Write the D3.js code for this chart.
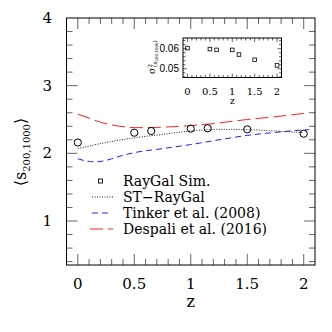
<!DOCTYPE html>
<html><head><meta charset="utf-8">
<script src="https://cdn.jsdelivr.net/npm/d3@7"></script>
<style>body{margin:0;background:#fff}svg{display:block}</style>
</head><body><svg id="c" width="332" height="332"></svg>
<script>
// data
const simZ = [0, 0.5, 0.65, 1.0, 1.15, 1.5, 2.0];
const simS = [2.16, 2.305, 2.33, 2.365, 2.37, 2.355, 2.29];
const simVar = [0.0603, 0.0598, 0.0594, 0.0594, 0.0571, 0.0545, 0.0517];
const stZ = [0, 0.25, 0.5, 0.75, 1.0, 1.25, 1.5, 1.75, 2.0];
const stS = [2.07, 2.16, 2.23, 2.28, 2.33, 2.355, 2.35, 2.33, 2.305];
const tinkerZ = [0, 0.08, 0.15, 0.22, 0.3, 0.4, 0.5, 0.75, 1.0, 1.25, 1.5, 1.75, 2.0, 2.05];
const tinkerS = [1.92, 1.885, 1.875, 1.885, 1.92, 1.97, 2.01, 2.07, 2.13, 2.2, 2.265, 2.31, 2.345, 2.35];
const despZ = [0, 0.1, 0.2, 0.3, 0.4, 0.5, 0.6, 0.8, 1.0, 1.2, 1.5, 1.8, 2.0, 2.05];
const despS = [2.58, 2.52, 2.46, 2.42, 2.395, 2.38, 2.38, 2.39, 2.41, 2.44, 2.5, 2.55, 2.59, 2.6];
const xTicks = [0, 0.5, 1, 1.5, 2];
const yTicks = [1, 2, 3, 4];
const insetYTicks = [0.05, 0.06];
const legendLabels = ["RayGal Sim.", "ST\u2212RayGal", "Tinker et al. (2008)", "Despali et al. (2016)"];

const svg = d3.select("#c");
const serif = "'DejaVu Serif', serif";
const L = 66.5, R = 315, T = 18, B = 265;
const x = d3.scaleLinear().domain([-0.1, 2.1]).range([L, R]);
const y = d3.scaleLinear().domain([0.35, 4]).range([B, T]);
const tickCol = "#666";

function frameTicks(g, xs, ys, left, right, top, bottom, xMaj, xMin, yMaj, yMin, majLen, minLen) {
  const xminor = d3.range(xs.domain()[0], xs.domain()[1] + 1e-9, xMin);
  xminor.forEach(v => {
    const isMaj = Math.abs(v / xMaj - Math.round(v / xMaj)) < 1e-6;
    const l = isMaj ? majLen : minLen;
    const px = xs(v);
    if (px < left + 0.5 || px > right - 0.5) return;
    g.append("line").attr("x1", px).attr("x2", px).attr("y1", bottom).attr("y2", bottom - l).attr("stroke", tickCol);
    g.append("line").attr("x1", px).attr("x2", px).attr("y1", top).attr("y2", top + l).attr("stroke", tickCol);
  });
  const y0 = Math.ceil(ys.domain()[0] / yMin) * yMin;
  d3.range(y0, ys.domain()[1] + 1e-9, yMin).forEach(v => {
    const isMaj = Math.abs(v / yMaj - Math.round(v / yMaj)) < 1e-6;
    const l = isMaj ? majLen : minLen;
    const py = ys(v);
    if (py < top + 0.5 || py > bottom - 0.5) return;
    g.append("line").attr("y1", py).attr("y2", py).attr("x1", left).attr("x2", left + l).attr("stroke", tickCol);
    g.append("line").attr("y1", py).attr("y2", py).attr("x1", right).attr("x2", right - l).attr("stroke", tickCol);
  });
  g.append("rect").attr("x", left).attr("y", top).attr("width", right - left).attr("height", bottom - top)
    .attr("fill", "none").attr("stroke", "#000").attr("stroke-width", 1);
}

const main = svg.append("g");
frameTicks(main, x, y, L, R, T, B, 0.5, 0.1, 1, 0.2, 11, 6);

// tick labels
main.selectAll(".xl").data(xTicks).join("text").attr("x", d => x(d)).attr("y", 289)
  .attr("text-anchor", "middle").attr("font-family", serif).attr("font-size", 15).text(d => d);
main.selectAll(".yl").data(yTicks).join("text").attr("x", 52).attr("y", d => y(d) + 5)
  .attr("text-anchor", "end").attr("font-family", serif).attr("font-size", 15).text(d => d);
main.append("text").attr("x", x(1)).attr("y", 307).attr("text-anchor", "middle")
  .attr("font-family", serif).attr("font-size", 16).text("z");
const yl = main.append("text").attr("transform", "translate(26,152) rotate(-90)")
  .attr("text-anchor", "middle").attr("font-family", serif).attr("font-size", 16);
yl.append("tspan").text("\u27E8s");
yl.append("tspan").attr("font-size", 10).attr("dy", 4).text("200,1000");
yl.append("tspan").attr("dy", -4).text("\u27E9");

const line = d3.line().curve(d3.curveMonotoneX);
const pts = (zs, vs) => zs.map((z, i) => [x(z), y(vs[i])]);
main.append("path").attr("d", line(pts(despZ, despS))).attr("fill", "none").attr("stroke", "#ff2020")
  .attr("stroke-width", 1).attr("stroke-dasharray", "13,5");
main.append("path").attr("d", line(pts(tinkerZ, tinkerS))).attr("fill", "none").attr("stroke", "#2020ff")
  .attr("stroke-width", 1).attr("stroke-dasharray", "6,4");
main.append("path").attr("d", line(pts(stZ, stS))).attr("fill", "none").attr("stroke", "#222")
  .attr("stroke-width", 1).attr("stroke-dasharray", "1,1.5");
main.selectAll(".pt").data(simZ).join("circle").attr("cx", d => x(d)).attr("cy", (d, i) => y(simS[i]))
  .attr("r", 3.6).attr("fill", "none").attr("stroke", "#000").attr("stroke-width", 1);

// legend
const lg = main.append("g");
const rowY = [181, 197, 213, 229];
legendLabels.forEach((t, i) => {
  lg.append("text").attr("x", 123).attr("y", rowY[i] + 5).attr("font-family", serif)
    .attr("font-size", 14).text(t);
});
lg.append("rect").attr("x", 98.5).attr("y", rowY[0] - 2).attr("width", 4).attr("height", 4)
  .attr("fill", "none").attr("stroke", "#000").attr("stroke-width", 0.9);
lg.append("line").attr("x1", 92).attr("x2", 113).attr("y1", rowY[1]).attr("y2", rowY[1])
  .attr("stroke", "#222").attr("stroke-dasharray", "1,1.5");
lg.append("line").attr("x1", 92).attr("x2", 112).attr("y1", rowY[2]).attr("y2", rowY[2])
  .attr("stroke", "#2020ff").attr("stroke-dasharray", "6,4");
lg.append("line").attr("x1", 90).attr("x2", 113).attr("y1", rowY[3]).attr("y2", rowY[3])
  .attr("stroke", "#ff2020").attr("stroke-dasharray", "13,5");

// inset
const iL = 183, iR = 281.5, iT = 38, iB = 77.5;
const ix = d3.scaleLinear().domain([-0.1, 2.1]).range([iL, iR]);
const iy = d3.scaleLinear().domain([0.0457, 0.0653]).range([iB, iT]);
const ins = svg.append("g");
frameTicks(ins, ix, iy, iL, iR, iT, iB, 0.5, 0.1, 0.01, 0.002, 4, 2.5);
ins.selectAll(".ixl").data(xTicks).join("text").attr("x", d => ix(d)).attr("y", 95)
  .attr("text-anchor", "middle").attr("font-family", serif).attr("font-size", 10).text(d => d);
ins.selectAll(".iyl").data(insetYTicks).join("text").attr("x", 179).attr("y", d => iy(d) + 3.5)
  .attr("text-anchor", "end").attr("font-family", "'Liberation Sans', sans-serif").attr("font-size", 10)
  .text(d => d.toFixed(2));
ins.append("text").attr("x", ix(1)).attr("y", 104).attr("text-anchor", "middle")
  .attr("font-family", serif).attr("font-size", 9).text("z");
const iyl = ins.append("text").attr("transform", "translate(155,57) rotate(-90)")
  .attr("text-anchor", "middle").attr("font-family", serif).attr("font-size", 9);
iyl.append("tspan").text("\u03C3");
iyl.append("tspan").attr("font-size", 6).attr("dy", -3).text("2");
iyl.append("tspan").attr("font-size", 6).attr("dy", 5).attr("dx", -3).text("(s");
iyl.append("tspan").attr("font-size", 4).attr("dy", 1).text("200,1000");
iyl.append("tspan").attr("font-size", 6).attr("dy", -1).text(")");
ins.selectAll(".ipt").data(simZ).join("rect").attr("x", d => ix(d) - 1.8).attr("y", (d, i) => iy(simVar[i]) - 1.8)
  .attr("width", 3.6).attr("height", 3.6).attr("fill", "none").attr("stroke", "#000").attr("stroke-width", 0.8);
</script></body></html>
